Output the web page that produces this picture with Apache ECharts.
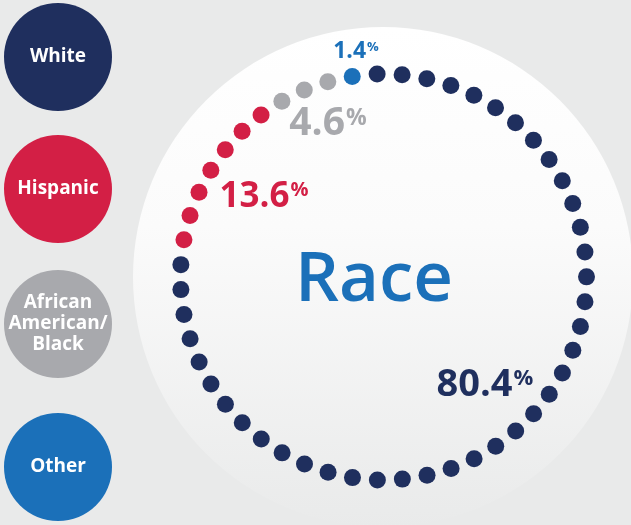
<!DOCTYPE html>
<html>
<head>
<meta charset="utf-8">
<script src="https://cdn.jsdelivr.net/npm/echarts@6/dist/echarts.min.js"></script>
<style>
  html, body { margin: 0; padding: 0; background: #e9eaea; }
  #main { width: 631px; height: 525px; }
</style>
</head>
<body>
<div id="main"></div>
<script>
// data
const categories = ['White', 'Hispanic', 'African American/Black', 'Other']
const percents = [80.4, 13.6, 4.6, 1.4]
const dotCounts = [40, 7, 3, 1]   // dots per group in the ring
const colors = ['#1f2f5e', '#d31f45', '#a8a9ad', '#1b70b9']

const totalDots = dotCounts.reduce((a, b) => a + b, 0)
const FONT = '"Open Sans", sans-serif'

// where each percent label sits (center of the text)
const labelPos = [[485, 385], [264, 197], [328, 124], [356, 51]]
const labelSize = [38, 35, 39, 23]

let chart = echarts.init(document.getElementById('main'))

// one scatter series per group, dots laid on the polar angle axis
let start = 0
const series = categories.map((name, i) => {
    const pts = []
    for (let k = 0; k < dotCounts[i]; k++) {
        pts.push([1, start + k])
    }
    start += dotCounts[i]
    return {
        name: name,
        type: 'scatter',
        coordinateSystem: 'polar',
        symbol: 'circle',
        symbolSize: 17,
        itemStyle: { color: colors[i], opacity: 1 },
        silent: true,
        data: pts
    }
})

const graphics = [
    {
        type: 'circle',
        shape: { cx: 383, cy: 277, r: 250 },
        style: {
            fill: new echarts.graphic.LinearGradient(0, 0, 0, 1, [
                { offset: 0, color: '#ffffff' },
                { offset: 0.4, color: '#fbfbfb' },
                { offset: 1, color: '#e9eaea' }
            ])
        },
        z: -10
    },
    {
        type: 'text',
        x: 374, y: 281,
        style: {
            text: 'Race',
            font: '600 69px ' + FONT,
            fill: colors[3],
            textAlign: 'center',
            textVerticalAlign: 'middle'
        }
    }
]

// legend discs on the left
const discY = [57, 189, 324, 467]
categories.forEach((name, i) => {
    graphics.push({
        type: 'circle',
        shape: { cx: 58, cy: discY[i], r: 54 },
        style: { fill: colors[i] }
    })
    graphics.push({
        type: 'text',
        x: 58, y: discY[i],
        style: {
            text: name.replace(' ', '\n').replace('/', '/\n'),
            font: 'bold 19px ' + FONT,
            lineHeight: 21,
            fill: '#ffffff',
            textAlign: 'center',
            textVerticalAlign: 'middle'
        }
    })
})

// percent labels, the % sign set small and raised
percents.forEach((v, i) => {
    const fs = labelSize[i]
    const ps = Math.round(fs * 0.58)
    graphics.push({
        type: 'text',
        x: labelPos[i][0], y: labelPos[i][1],
        style: {
            text: '{n|' + v.toFixed(1) + '}{p|%}',
            fill: colors[i],
            textAlign: 'center',
            textVerticalAlign: 'middle',
            rich: {
                n: { fontFamily: FONT, fontWeight: 'bold', fontSize: fs, fill: colors[i], lineHeight: fs },
                p: { fontFamily: FONT, fontWeight: 'bold', fontSize: ps, fill: colors[i], verticalAlign: 'top', lineHeight: ps, padding: [Math.round(fs * 0.04), 0, 0, 1] }
            }
        }
    })
})

chart.setOption({
    backgroundColor: '#e9eaea',
    animation: false,
    polar: {
        center: [383.5, 277],
        radius: 203
    },
    angleAxis: {
        type: 'value',
        min: 0,
        max: totalDots,
        startAngle: 91.8,
        clockwise: true,
        axisLine: { show: false },
        axisTick: { show: false },
        axisLabel: { show: false },
        splitLine: { show: false }
    },
    radiusAxis: {
        type: 'value',
        min: 0,
        max: 1,
        axisLine: { show: false },
        axisTick: { show: false },
        axisLabel: { show: false },
        splitLine: { show: false }
    },
    graphic: graphics,
    series: series
})
</script>
</body>
</html>
